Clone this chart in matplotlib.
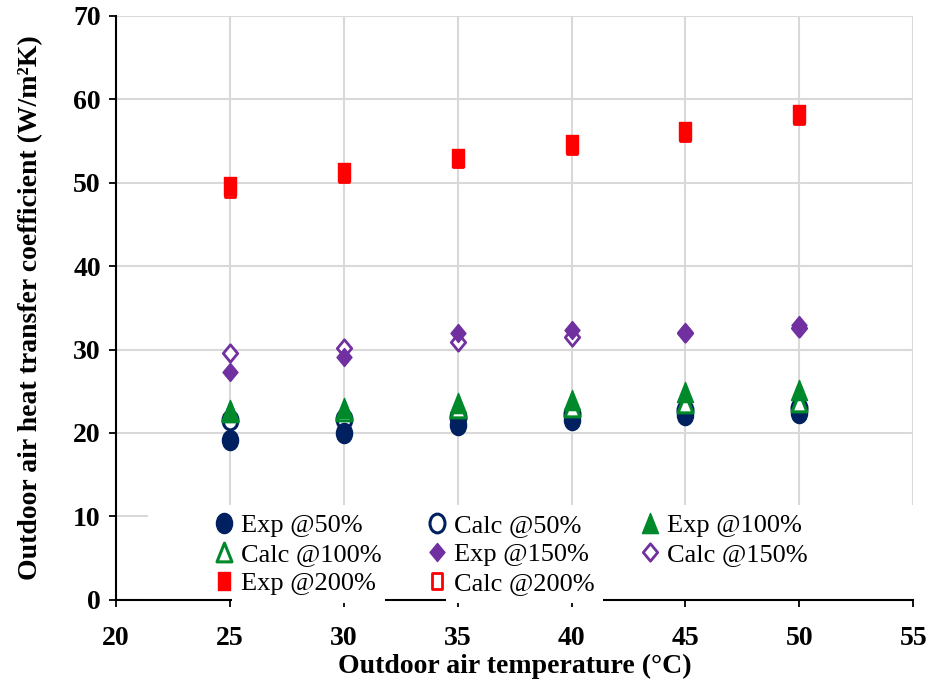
import matplotlib.pyplot as plt
import numpy as np
from matplotlib.path import Path
from matplotlib.patches import Rectangle

plt.rcParams['font.family'] = ['Liberation Serif', 'DejaVu Serif']

# outdoor air temperature (°C)
temp = [25, 30, 35, 40, 45, 50]

# heat transfer coefficient (W/m2K), experimental vs calculated at each fan load
exp_50 = [19.2, 20.0, 20.9, 21.5, 22.2, 22.4]
calc_50 = [21.5, 21.7, 21.9, 22.3, 22.8, 23.0]
exp_100 = [22.8, 23.0, 23.6, 24.0, 24.9, 25.2]
calc_100 = [22.5, 22.6, 23.0, 23.1, 23.6, 23.7]
exp_150 = [27.3, 29.1, 32.0, 32.4, 32.1, 32.9]
calc_150 = [29.6, 30.2, 30.9, 31.5, 32.0, 32.6]
exp_200 = [49.6, 51.3, 53.0, 54.6, 56.2, 58.2]
calc_200 = [49.3, 51.1, 52.8, 54.4, 56.0, 58.0]

navy = '#00205f'
green = '#00892a'
purple = '#7030a0'
red = '#ff0000'


# slightly tall markers (the excel ones are stretched vertically)
def squash(path, sx):
    v = path.vertices.copy()
    v[:, 0] *= sx
    return Path(v, path.codes)


circ = squash(Path.unit_circle(), 0.8)
tri = Path([(0, 1), (-0.8, -1), (0.8, -1), (0, 1)], closed=True)
dia = Path([(0, 1), (-0.83, 0), (0, -1), (0.83, 0), (0, 1)], closed=True)
sq = Path([(-0.65, -1), (0.65, -1), (0.65, 1), (-0.65, 1), (-0.65, -1)], closed=True)

fig = plt.figure(figsize=(9.29, 6.91), dpi=100)
ax = fig.add_axes([0.125, 0.132, 0.858, 0.845])

h = {}
h['Calc @50%'], = ax.plot(temp, calc_50, ls='none', marker=circ, ms=13.5, mfc='white', mec=navy, mew=2.2)
h['Exp @50%'], = ax.plot(temp, exp_50, ls='none', marker=circ, ms=14.5, color=navy)
h['Calc @100%'], = ax.plot(temp, calc_100, ls='none', marker=tri, ms=13.5, mfc='white', mec=green, mew=2.2)
h['Exp @100%'], = ax.plot(temp, exp_100, ls='none', marker=tri, ms=14.5, color=green)
h['Calc @150%'], = ax.plot(temp, calc_150, ls='none', marker=dia, ms=12.5, mfc='white', mec=purple, mew=2)
h['Exp @150%'], = ax.plot(temp, exp_150, ls='none', marker=dia, ms=13, color=purple)
h['Calc @200%'], = ax.plot(temp, calc_200, ls='none', marker=sq, ms=11.5, mfc='white', mec=red, mew=2)
h['Exp @200%'], = ax.plot(temp, exp_200, ls='none', marker=sq, ms=12.5, color=red)

ax.set_xlim(20, 55)
ax.set_ylim(0, 70)
ax.set_xticks(np.arange(20, 56, 5))
ax.set_yticks(np.arange(0, 71, 10))
ax.grid(True, color='#d9d9d9', lw=1.5)
ax.set_axisbelow(True)
for s in ['top', 'right']:
    ax.spines[s].set_visible(False)
for s in ['left', 'bottom']:
    ax.spines[s].set_linewidth(1.5)
ax.tick_params(direction='out', length=5, width=1.3, labelsize=20, pad=6)
ax.tick_params(axis='x', pad=14)
for lab in ax.get_xticklabels() + ax.get_yticklabels():
    lab.set_fontweight('bold')

ax.set_xlabel('Outdoor air temperature (°C)', fontsize=20, fontweight='bold', labelpad=2)
ax.set_ylabel('Outdoor air heat transfer coefficient (W/m²K)', fontsize=20,
              fontweight='bold', labelpad=22)

# white block behind the legend hides the lower gridlines
ax.add_patch(Rectangle((0.04, 0.0), 0.96, 0.163, transform=ax.transAxes,
                       facecolor='white', edgecolor='none', zorder=1))
# legend entries in the last row sit over the bottom axis line
for x0, x1 in [(25.1, 31.8), (34.5, 41.4)]:
    ax.add_patch(Rectangle((x0, -0.4), x1 - x0, 0.8, facecolor='white',
                           edgecolor='none', zorder=3, clip_on=False))

# legend filled column-wise so it reads row by row
order = ['Exp @50%', 'Calc @100%', 'Exp @200%',
         'Calc @50%', 'Exp @150%', 'Calc @200%',
         'Exp @100%', 'Calc @150%']
leg = ax.legend([h[k] for k in order], order, ncol=3, loc='lower left',
                bbox_to_anchor=(0.102, -0.014), fontsize=19, frameon=False,
                handletextpad=0.15, handlelength=1.0, labelspacing=0.2,
                borderpad=0.0, columnspacing=1.6)
leg.set_zorder(5)

fig.savefig('out.png', dpi=100)
